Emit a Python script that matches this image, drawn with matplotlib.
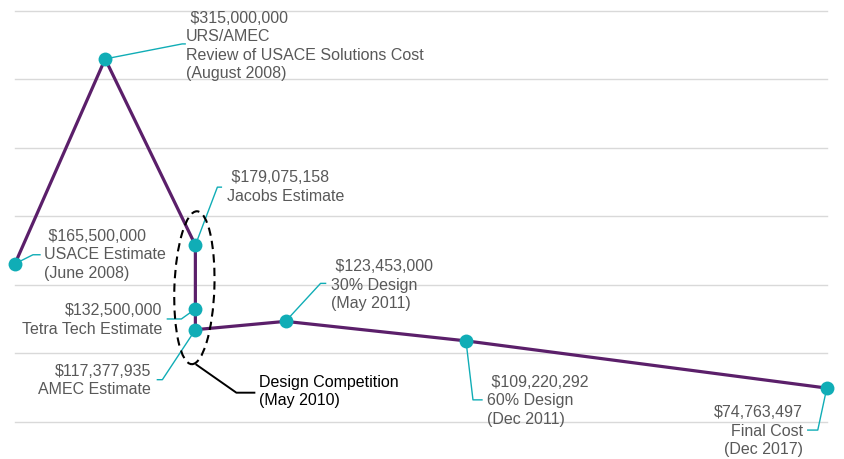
import numpy as np
import matplotlib
matplotlib.use('Agg')
from matplotlib import pyplot as plt
from matplotlib.patches import Ellipse
from matplotlib.transforms import IdentityTransform

plt.rcParams['font.family'] = ['Liberation Sans', 'DejaVu Sans']

# category slot of each estimate (not time-proportional in the original)
steps = [0, 1, 2, 2, 2, 3, 5, 9]
costs = [165500000, 315000000, 179075158, 132500000, 117377935,
         123453000, 109220292, 74763497]
labels = [' $165,500,000\nUSACE Estimate\n(June 2008)',
          ' $315,000,000\nURS/AMEC\nReview of USACE Solutions Cost\n(August 2008)',
          ' $179,075,158\nJacobs Estimate',
          '$132,500,000\nTetra Tech Estimate',
          '$117,377,935\nAMEC Estimate',
          ' $123,453,000\n30% Design\n(May 2011)',
          ' $109,220,292\n60% Design\n(Dec 2011)',
          '$74,763,497\nFinal Cost\n(Dec 2017)']
grid_vals = [50e6, 100e6, 150e6, 200e6, 250e6, 300e6, 350e6]
group_note = 'Design Competition\n(May 2010)'

purple = '#5b1f6a'
teal = '#10adb6'
grey_txt = '#595959'

# label placement: text offset (px, y down), alignment, leader bends
layout = [
    (29, -9, 'left', [(18, -9), (25, -9)]),
    (81, -13, 'left', [(77, -15), (80, -15)]),
    (32, -58, 'left', [(22, -58), (26, -58)]),
    (-33, 11, 'right', [(-14, 10), (-28, 10)]),
    (-44, 51, 'right', [(-33, 50), (-38, 50)]),
    (45, -36, 'left', [(35, -38), (40, -38)]),
    (21, 60, 'left', [(7, 59), (16, 59)]),
    (-24, 43, 'right', [(-9, 42), (-19, 42)]),
]

fig = plt.figure(figsize=(8.45, 4.59), dpi=100)
ax = fig.add_axes([0, 0, 1, 1])
ax.set_xlim(-0.166, 9.202)
ax.set_ylim(23.0e6, 358.0e6)
ax.set_autoscale_on(False)
ax.axis('off')

for g in grid_vals:
    ax.plot([0, 9], [g, g], color='#d9d9d9', lw=1, zorder=1)

ax.plot(steps, costs, color=purple, lw=2.3, zorder=2, solid_capstyle='round')
ax.plot(steps, costs, 'o', ms=10, color=teal, mec='none', zorder=4)

pts = ax.transData.transform(np.column_stack([steps, costs]))
ident = IdentityTransform()
for i, (dx, dy, ha, leader) in enumerate(layout):
    px, py = pts[i]
    ax.text(px + dx, py - dy, labels[i], transform=ident, ha=ha, va='center',
            ma=ha, fontsize=11.5, color=grey_txt, linespacing=1.3)
    lx = [px] + [px + a for a, b in leader]
    ly = [py] + [py - b for a, b in leader]
    ax.plot(lx, ly, transform=ident, color=teal, lw=1, zorder=3)

# dashed ring round the May 2010 estimates
cx, cy = ax.transData.transform((2, 148e6))
ax.add_patch(Ellipse((cx - 1, cy), 40, 153, angle=-2, transform=ident,
                     fill=False, ec='black', lw=1.5, ls=(0, (4, 2.5)), zorder=5))
bx, by = pts[4]
ax.plot([bx + 1, bx + 41, bx + 59], [by - 35, by - 63, by - 63],
        transform=ident, color='black', lw=1.4, zorder=5)
ax.text(bx + 64, by - 62, group_note, transform=ident, ha='left', va='center',
        fontsize=11.5, color='black', linespacing=1.3)

fig.savefig('out.png', dpi=100)
